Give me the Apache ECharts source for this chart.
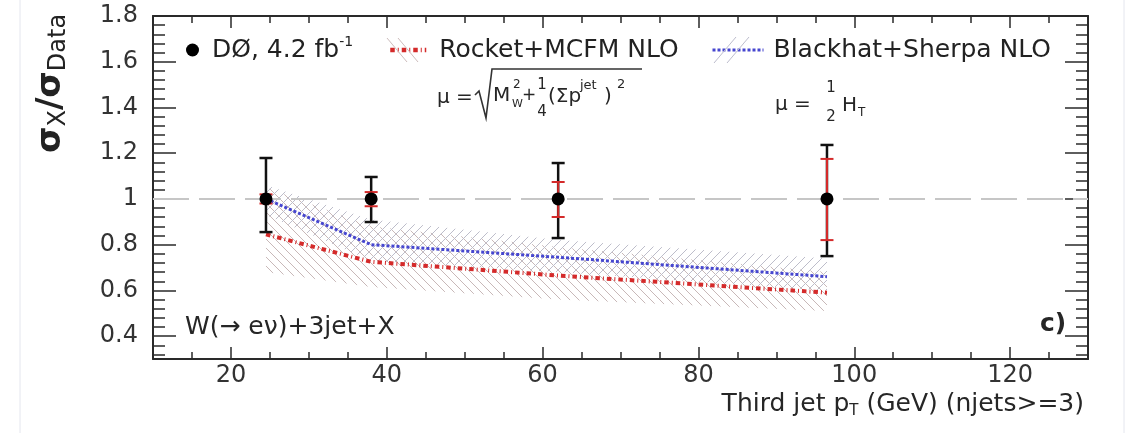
<!DOCTYPE html>
<html>
<head>
<meta charset="utf-8">
<script src="https://cdn.jsdelivr.net/npm/echarts@6/dist/echarts.min.js"></script>
<style>
html, body { margin: 0; padding: 0; background: #fff; }
#chart { width: 1127px; height: 433px; }
</style>
</head>
<body>
<div id="chart"></div>
<script>
// Third-jet pT bin centres (GeV)
const binCentres = [24.5, 38, 62, 96.5];
// Data normalised to itself, with total and statistical uncertainties
const dataRatio = [1, 1, 1, 1];
const totalLow  = [0.855, 0.899, 0.829, 0.750];
const totalHigh = [1.179, 1.096, 1.157, 1.236];
const statLow   = [0.980, 0.968, 0.921, 0.820];
const statHigh  = [1.020, 1.030, 1.074, 1.175];
// NLO predictions divided by data
const rocketRatio   = [0.845, 0.725, 0.665, 0.590];
const blackhatRatio = [1.000, 0.800, 0.745, 0.660];
// Scale-uncertainty envelopes of the predictions
const rocketBandHigh   = [1.050, 0.880, 0.790, 0.680];
const rocketBandLow    = [0.680, 0.615, 0.560, 0.510];
const blackhatBandHigh = [1.060, 0.910, 0.820, 0.740];
const blackhatBandLow  = [0.930, 0.730, 0.680, 0.600];
// Axis ranges
const xRange = [10, 130];
const yRange = [0.3, 1.8];

const FONT = 'DejaVu Sans';
const INK = '#2a2a2a';
const RED = '#d42a2a';
const BLUE = '#4646cf';

// Diagonal hatch pattern used for the uncertainty envelopes
function hatch(rising, color) {
  const s = 9;
  const c = document.createElement('canvas');
  c.width = c.height = s;
  const g = c.getContext('2d');
  g.strokeStyle = color;
  g.lineWidth = 1;
  for (const k of [-s, 0, s]) {
    g.beginPath();
    if (rising) { g.moveTo(k, s); g.lineTo(k + s, 0); }
    else { g.moveTo(k, 0); g.lineTo(k + s, s); }
    g.stroke();
  }
  return { image: c, repeat: 'repeat' };
}

function bandSeries(name, low, high, fill, extra) {
  return Object.assign({
    type: 'custom',
    name: name,
    silent: true,
    z: 1,
    data: binCentres.map((x, i) => [x, low[i], high[i]]),
    encode: { x: 0, y: [1, 2] },
    renderItem(params, api) {
      if (params.dataIndexInside !== 0) return null;
      const n = params.dataInsideLength;
      const top = [], bottom = [];
      for (let i = 0; i < n; i++) {
        top.push(api.coord([api.value(0, i), api.value(2, i)]));
        bottom.unshift(api.coord([api.value(0, i), api.value(1, i)]));
      }
      return { type: 'polygon', shape: { points: top.concat(bottom) }, style: { fill: fill } };
    }
  }, extra || {});
}

function errorBarSeries(low, high, color, width, capHalf, z) {
  return {
    type: 'custom',
    silent: true,
    z: z,
    data: binCentres.map((x, i) => [x, low[i], high[i]]),
    encode: { x: 0, y: [1, 2] },
    renderItem(params, api) {
      const x = api.value(0);
      const lo = api.coord([x, api.value(1)]);
      const hi = api.coord([x, api.value(2)]);
      const st = { stroke: color, lineWidth: width };
      return {
        type: 'group',
        children: [
          { type: 'line', shape: { x1: lo[0], y1: lo[1], x2: hi[0], y2: hi[1] }, style: st },
          { type: 'line', shape: { x1: lo[0] - capHalf, y1: lo[1], x2: lo[0] + capHalf, y2: lo[1] }, style: st },
          { type: 'line', shape: { x1: hi[0] - capHalf, y1: hi[1], x2: hi[0] + capHalf, y2: hi[1] }, style: st }
        ]
      };
    }
  };
}

const frameLine = { show: true, onZero: false, lineStyle: { color: INK, width: 2 } };
function xAxisDef(position, showLabels) {
  return {
    type: 'value', position: position, min: xRange[0], max: xRange[1], splitNumber: 6,
    axisLine: frameLine,
    axisTick: { show: true, inside: true, length: 12, lineStyle: { color: INK, width: 1.5 } },
    minorTick: { show: true, splitNumber: 4, length: 7, lineStyle: { color: INK, width: 1.5 } },
    splitLine: { show: false }, minorSplitLine: { show: false },
    axisLabel: {
      show: showLabels, fontFamily: FONT, fontSize: 24, color: '#333', margin: 5,
      showMinLabel: false, showMaxLabel: false
    }
  };
}
function yAxisDef(position, showLabels) {
  return {
    type: 'value', position: position, min: yRange[0], max: yRange[1], splitNumber: 7,
    axisLine: frameLine,
    axisTick: { show: true, inside: true, length: 23, lineStyle: { color: INK, width: 1.5 } },
    minorTick: { show: true, splitNumber: 5, length: 12, lineStyle: { color: INK, width: 1.5 } },
    splitLine: { show: false }, minorSplitLine: { show: false },
    axisLabel: {
      show: showLabels, fontFamily: FONT, fontSize: 24, color: '#333', margin: 15,
      showMinLabel: false
    }
  };
}

function txt(x, y, text, size, opts) {
  return {
    type: 'text', x: x, y: y, silent: true, z: 50,
    style: Object.assign({
      text: text, fontFamily: FONT, fontSize: size, fill: '#262626',
      textAlign: 'left', textVerticalAlign: 'middle'
    }, opts || {})
  };
}
function seg(points, color, width) {
  return {
    type: 'polyline', silent: true, z: 50,
    shape: { points: points },
    style: { stroke: color, lineWidth: width, fill: null }
  };
}

const chart = echarts.init(document.getElementById('chart'));
chart.setOption({
  animation: false,
  backgroundColor: '#fff',
  grid: { left: 153, right: 39, top: 16, bottom: 74, containLabel: false, outerBoundsMode: 'none' },
  xAxis: [xAxisDef('bottom', true), xAxisDef('top', false)],
  yAxis: [yAxisDef('left', true), yAxisDef('right', false)],
  legend: [
    {
      data: ['DØ, 4.2 fb-1'], left: 186, top: 35, padding: 0, selectedMode: false,
      itemWidth: 13, itemHeight: 13,
      formatter: () => 'DØ, 4.2 fb{sup|-1}',
      textStyle: {
        fontFamily: FONT, fontSize: 25, color: '#222', lineHeight: 30, padding: [0, 0, 0, 8],
        rich: { sup: { fontFamily: FONT, fontSize: 14, lineHeight: 14, verticalAlign: 'top', color: '#222' } }
      }
    },
    {
      data: ['Rocket+MCFM NLO'], left: 388, top: 35, padding: 0, selectedMode: false,
      itemWidth: 36, itemHeight: 14, itemStyle: { opacity: 0 },
      lineStyle: { width: 4.5 },
      textStyle: { fontFamily: FONT, fontSize: 25, color: '#222', lineHeight: 30, padding: [0, 0, 0, 8] }
    },
    {
      data: ['Blackhat+Sherpa NLO'], left: 711, top: 35, padding: 0, selectedMode: false,
      itemWidth: 51, itemHeight: 14, itemStyle: { opacity: 0 },
      lineStyle: { width: 3 },
      textStyle: { fontFamily: FONT, fontSize: 25, color: '#222', lineHeight: 30, padding: [0, 0, 0, 5] }
    }
  ],
  series: [
    bandSeries('Rocket band', rocketBandLow, rocketBandHigh, hatch(false, '#c8b8b8'), {
      markLine: {
        silent: true, symbol: 'none', label: { show: false },
        lineStyle: { color: '#c6c6c6', width: 2, type: [36, 10] },
        data: [{ yAxis: 1 }]
      }
    }),
    bandSeries('Blackhat band', blackhatBandLow, blackhatBandHigh, hatch(true, '#bdbdca')),
    {
      name: 'Rocket+MCFM NLO', type: 'line', z: 2, silent: true, symbol: 'none',
      data: binCentres.map((x, i) => [x, rocketRatio[i]]),
      lineStyle: { color: RED, width: 4, type: [4.5, 3, 1, 3], cap: 'butt' },
      itemStyle: { color: RED }
    },
    {
      name: 'Blackhat+Sherpa NLO', type: 'line', z: 2, silent: true, symbol: 'none',
      data: binCentres.map((x, i) => [x, blackhatRatio[i]]),
      lineStyle: { color: BLUE, width: 3, type: [3, 2], cap: 'butt' },
      itemStyle: { color: BLUE }
    },
    errorBarSeries(totalLow, totalHigh, '#111', 2.5, 6.5, 3),
    errorBarSeries(statLow, statHigh, RED, 2, 6.5, 4),
    {
      name: 'DØ, 4.2 fb-1', type: 'scatter', z: 5, silent: true,
      symbol: 'circle', symbolSize: 13,
      data: binCentres.map((x, i) => [x, dataRatio[i]]),
      itemStyle: { color: '#000', opacity: 1 }
    }
  ],
  graphic: [
    // faint page edges
    { type: 'line', silent: true, z: 0, shape: { x1: 20, y1: 0, x2: 20, y2: 433 }, style: { stroke: '#e4e6ee', lineWidth: 1 } },
    { type: 'line', silent: true, z: 0, shape: { x1: 1124, y1: 0, x2: 1124, y2: 433 }, style: { stroke: '#e4e6ee', lineWidth: 1 } },
    // y-axis title
    {
      type: 'text', x: 51, y: 153, rotation: Math.PI / 2, silent: true, z: 50,
      style: {
        text: '{s|σ}{sub|X}{s|/σ}{sub|Data}',
        textAlign: 'left', textVerticalAlign: 'middle', fill: '#222',
        rich: {
          s: { fontFamily: FONT, fontSize: 34, fontWeight: 'bold', lineHeight: 40, fill: '#222' },
          sub: { fontFamily: FONT, fontSize: 24, lineHeight: 24, verticalAlign: 'bottom', fill: '#222' }
        }
      }
    },
    // x-axis title
    {
      type: 'text', x: 1084, y: 404, silent: true, z: 50,
      style: {
        text: '{n|Third jet p}{sub|T}{n| (GeV) (njets>=3)}',
        textAlign: 'right', textVerticalAlign: 'middle', fill: '#262626',
        rich: {
          n: { fontFamily: FONT, fontSize: 25, lineHeight: 30, fill: '#262626' },
          sub: { fontFamily: FONT, fontSize: 15, lineHeight: 15, verticalAlign: 'bottom', fill: '#262626' }
        }
      }
    },
    // hatch swatches behind the legend lines
    seg([[387, 38], [407, 62]], '#cdbdbd', 1),
    seg([[398, 38], [418, 62]], '#cdbdbd', 1),
    seg([[714, 63], [736, 37]], '#bdbdcd', 1),
    seg([[727, 63], [749, 37]], '#bdbdcd', 1),
    // renormalisation scale, Rocket+MCFM
    txt(437, 98, 'μ =', 20),
    seg([[475, 95], [479, 91], [486, 118], [492, 69], [642, 69]], '#333', 1.6),
    txt(493, 96, 'M', 20),
    txt(512, 104, 'W', 11),
    txt(513, 85, '2', 12),
    txt(522, 96, '+', 17),
    txt(542, 85, '1', 15, { textAlign: 'center' }),
    txt(542, 112, '4', 15, { textAlign: 'center' }),
    txt(548, 97, '(Σp', 20),
    txt(580, 86, 'jet', 13),
    txt(604, 97, ')', 20),
    txt(617, 85, '2', 13),
    // renormalisation scale, Blackhat+Sherpa
    txt(775, 105, 'μ =', 20),
    txt(831, 88, '1', 15, { textAlign: 'center' }),
    txt(831, 117, '2', 15, { textAlign: 'center' }),
    txt(842, 106, 'H', 20),
    txt(858, 113, 'T', 12),
    // process and panel labels
    txt(185, 327, 'W(→ eν)+3jet+X', 25),
    txt(1040, 324, 'c)', 25, { fontWeight: 'bold' })
  ]
});
</script>
</body>
</html>
